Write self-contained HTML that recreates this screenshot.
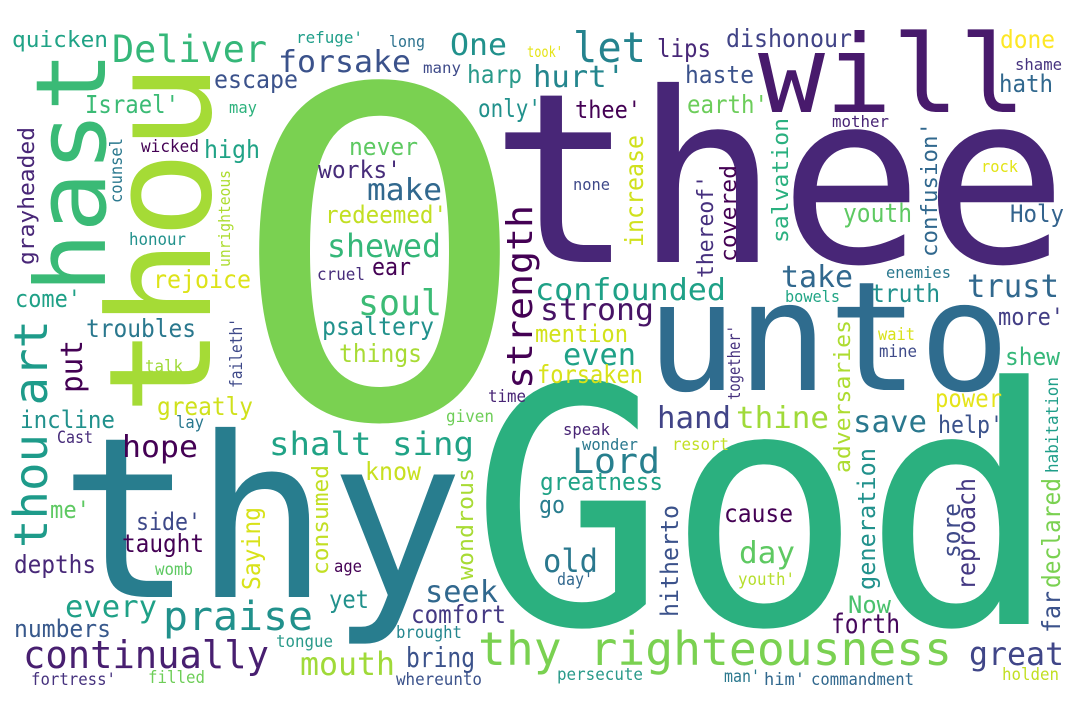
<!DOCTYPE html>
<html><head><meta charset="utf-8"><style>
html,body{margin:0;padding:0;background:#fff;}
svg{display:block;font-family:"DejaVu Sans Mono","Liberation Mono",monospace;}
</style></head><body>
<svg width="1080" height="720" viewBox="0 0 1080 720" xmlns="http://www.w3.org/2000/svg">
<rect width="1080" height="720" fill="#ffffff"/>
<g>
<text x="231" y="417" font-size="455" fill="#7ad151" textLength="297" lengthAdjust="spacingAndGlyphs">O</text>
<text x="490" y="262" font-size="237" fill="#482677" textLength="578" lengthAdjust="spacingAndGlyphs">thee</text>
<text x="758" y="112" font-size="108" fill="#481a6c" textLength="268" lengthAdjust="spacingAndGlyphs">will</text>
<text x="646" y="390" font-size="152" fill="#2f6c8e" textLength="364" lengthAdjust="spacingAndGlyphs">unto</text>
<text x="470" y="624" font-size="330" fill="#2bb07f" textLength="589" lengthAdjust="spacingAndGlyphs">God</text>
<text x="59" y="597" font-size="224" fill="#287d8e" textLength="405" lengthAdjust="spacingAndGlyphs">thy</text>
<text x="210" y="415" font-size="142" fill="#a5db36" textLength="352" lengthAdjust="spacingAndGlyphs" transform="rotate(-90 210 415)">thou</text>
<text x="105" y="293" font-size="97" fill="#3aba76" textLength="242" lengthAdjust="spacingAndGlyphs" transform="rotate(-90 105 293)">hast</text>
<text x="47" y="548" font-size="46" fill="#1e9b8a" textLength="228" lengthAdjust="spacingAndGlyphs" transform="rotate(-90 47 548)">thou art</text>
<text x="532" y="389" font-size="36" fill="#440154" textLength="184" lengthAdjust="spacingAndGlyphs" transform="rotate(-90 532 389)">strength</text>
<text x="82" y="393" font-size="30" fill="#440154" textLength="53" lengthAdjust="spacingAndGlyphs" transform="rotate(-90 82 393)">put</text>

<text x="12" y="47" font-size="22" fill="#20a386" textLength="96" lengthAdjust="spacingAndGlyphs">quicken</text>
<text x="112" y="62" font-size="37" fill="#35b779" textLength="155" lengthAdjust="spacingAndGlyphs">Deliver</text>
<text x="296" y="43" font-size="16" fill="#1f9e89" textLength="67" lengthAdjust="spacingAndGlyphs">refuge'</text>
<text x="389" y="47" font-size="16" fill="#2c728e" textLength="36" lengthAdjust="spacingAndGlyphs">long</text>
<text x="450" y="55" font-size="30" fill="#21918c" textLength="57" lengthAdjust="spacingAndGlyphs">One</text>
<text x="278" y="72" font-size="30" fill="#3b528b" textLength="133" lengthAdjust="spacingAndGlyphs">forsake</text>
<text x="423" y="73" font-size="15" fill="#3e4a89" textLength="38" lengthAdjust="spacingAndGlyphs">many</text>
<text x="467" y="83" font-size="25" fill="#2a9a8a" textLength="55" lengthAdjust="spacingAndGlyphs">harp</text>
<text x="214" y="88" font-size="25" fill="#3b528b" textLength="84" lengthAdjust="spacingAndGlyphs">escape</text>
<text x="85" y="113" font-size="25" fill="#3bbb75" textLength="94" lengthAdjust="spacingAndGlyphs">Israel'</text>
<text x="229" y="113" font-size="16" fill="#2db27d" textLength="28" lengthAdjust="spacingAndGlyphs">may</text>
<text x="478" y="117" font-size="25" fill="#21918c" textLength="63" lengthAdjust="spacingAndGlyphs">only'</text>
<text x="141" y="152" font-size="17" fill="#440154" textLength="58" lengthAdjust="spacingAndGlyphs">wicked</text>
<text x="204" y="158" font-size="25" fill="#20a386" textLength="56" lengthAdjust="spacingAndGlyphs">high</text>
<text x="129" y="245" font-size="17" fill="#21918c" textLength="57" lengthAdjust="spacingAndGlyphs">honour</text>
<text x="349" y="155" font-size="24" fill="#5ec962" textLength="69" lengthAdjust="spacingAndGlyphs">never</text>
<text x="318" y="178" font-size="24" fill="#472c7a" textLength="83" lengthAdjust="spacingAndGlyphs">works'</text>
<text x="367" y="200" font-size="30" fill="#31688e" textLength="75" lengthAdjust="spacingAndGlyphs">make</text>
<text x="325" y="223" font-size="24" fill="#c2df23" textLength="122" lengthAdjust="spacingAndGlyphs">redeemed'</text>
<text x="327" y="257" font-size="32" fill="#35b779" textLength="114" lengthAdjust="spacingAndGlyphs">shewed</text>
<text x="317" y="280" font-size="17" fill="#472d7b" textLength="48" lengthAdjust="spacingAndGlyphs">cruel</text>
<text x="372" y="275" font-size="24" fill="#440154" textLength="39" lengthAdjust="spacingAndGlyphs">ear</text>
<text x="153" y="288" font-size="25" fill="#dde318" textLength="98" lengthAdjust="spacingAndGlyphs">rejoice</text>
<text x="15" y="307" font-size="24" fill="#1fa187" textLength="66" lengthAdjust="spacingAndGlyphs">come'</text>
<text x="358" y="315" font-size="36" fill="#3bbb75" textLength="84" lengthAdjust="spacingAndGlyphs">soul</text>
<text x="86" y="337" font-size="25" fill="#2a788e" textLength="110" lengthAdjust="spacingAndGlyphs">troubles</text>
<text x="322" y="335" font-size="25" fill="#21918c" textLength="112" lengthAdjust="spacingAndGlyphs">psaltery</text>
<text x="339" y="362" font-size="25" fill="#a8db34" textLength="83" lengthAdjust="spacingAndGlyphs">things</text>
<text x="145" y="372" font-size="17" fill="#a0da39" textLength="38" lengthAdjust="spacingAndGlyphs">talk</text>
<text x="488" y="402" font-size="17" fill="#482475" textLength="38" lengthAdjust="spacingAndGlyphs">time</text>
<text x="157" y="415" font-size="25" fill="#d0e11c" textLength="96" lengthAdjust="spacingAndGlyphs">greatly</text>
<text x="446" y="422" font-size="17" fill="#6ece58" textLength="48" lengthAdjust="spacingAndGlyphs">given</text>
<text x="20" y="428" font-size="24" fill="#21918c" textLength="95" lengthAdjust="spacingAndGlyphs">incline</text>
<text x="176" y="428" font-size="17" fill="#2a788e" textLength="28" lengthAdjust="spacingAndGlyphs">lay</text>
<text x="57" y="443" font-size="17" fill="#472c7a" textLength="36" lengthAdjust="spacingAndGlyphs">Cast</text>
<text x="122" y="457" font-size="30" fill="#440154" textLength="76" lengthAdjust="spacingAndGlyphs">hope</text>
<text x="269" y="455" font-size="32" fill="#20a386" textLength="205" lengthAdjust="spacingAndGlyphs">shalt sing</text>
<text x="365" y="480" font-size="25" fill="#c8e020" textLength="56" lengthAdjust="spacingAndGlyphs">know</text>
<text x="50" y="518" font-size="24" fill="#5ec962" textLength="40" lengthAdjust="spacingAndGlyphs">me'</text>
<text x="136" y="530" font-size="24" fill="#3e4989" textLength="65" lengthAdjust="spacingAndGlyphs">side'</text>
<text x="122" y="552" font-size="25" fill="#440154" textLength="82" lengthAdjust="spacingAndGlyphs">taught</text>
<text x="14" y="573" font-size="25" fill="#482878" textLength="82" lengthAdjust="spacingAndGlyphs">depths</text>
<text x="155" y="575" font-size="17" fill="#5ec962" textLength="38" lengthAdjust="spacingAndGlyphs">womb</text>
<text x="334" y="572" font-size="17" fill="#440154" textLength="28" lengthAdjust="spacingAndGlyphs">age</text>
<text x="425" y="602" font-size="30" fill="#31688e" textLength="73" lengthAdjust="spacingAndGlyphs">seek</text>
<text x="329" y="608" font-size="25" fill="#21918c" textLength="40" lengthAdjust="spacingAndGlyphs">yet</text>
<text x="65" y="617" font-size="30" fill="#1fa187" textLength="92" lengthAdjust="spacingAndGlyphs">every</text>
<text x="163" y="630" font-size="40" fill="#21918c" textLength="150" lengthAdjust="spacingAndGlyphs">praise</text>
<text x="411" y="623" font-size="25" fill="#443983" textLength="95" lengthAdjust="spacingAndGlyphs">comfort</text>
<text x="14" y="637" font-size="24" fill="#38598c" textLength="97" lengthAdjust="spacingAndGlyphs">numbers</text>
<text x="396" y="638" font-size="17" fill="#24868e" textLength="66" lengthAdjust="spacingAndGlyphs">brought</text>
<text x="276" y="647" font-size="17" fill="#2a9a8a" textLength="57" lengthAdjust="spacingAndGlyphs">tongue</text>
<text x="23" y="668" font-size="38" fill="#481f70" textLength="246" lengthAdjust="spacingAndGlyphs">continually</text>
<text x="300" y="675" font-size="32" fill="#a0da39" textLength="95" lengthAdjust="spacingAndGlyphs">mouth</text>
<text x="406" y="667" font-size="28" fill="#3b528b" textLength="69" lengthAdjust="spacingAndGlyphs">bring</text>
<text x="31" y="685" font-size="17" fill="#46327e" textLength="85" lengthAdjust="spacingAndGlyphs">fortress'</text>
<text x="148" y="683" font-size="17" fill="#6ece58" textLength="57" lengthAdjust="spacingAndGlyphs">filled</text>
<text x="396" y="685" font-size="17" fill="#3b528b" textLength="86" lengthAdjust="spacingAndGlyphs">whereunto</text>

<text x="34" y="265" font-size="22" fill="#482677" textLength="138" lengthAdjust="spacingAndGlyphs" transform="rotate(-90 34 265)">grayheaded</text>
<text x="122" y="203" font-size="17" fill="#2a788e" textLength="65" lengthAdjust="spacingAndGlyphs" transform="rotate(-90 122 203)">counsel</text>
<text x="230" y="267" font-size="16" fill="#addc30" textLength="97" lengthAdjust="spacingAndGlyphs" transform="rotate(-90 230 267)">unrighteous</text>
<text x="242" y="388" font-size="17" fill="#3e4989" textLength="70" lengthAdjust="spacingAndGlyphs" transform="rotate(-90 242 388)">faileth'</text>
<text x="260" y="590" font-size="25" fill="#d8e219" textLength="83" lengthAdjust="spacingAndGlyphs" transform="rotate(-90 260 590)">Saying</text>
<text x="328" y="575" font-size="22" fill="#c2df23" textLength="110" lengthAdjust="spacingAndGlyphs" transform="rotate(-90 328 575)">consumed</text>
<text x="473" y="580" font-size="22" fill="#a8db34" textLength="112" lengthAdjust="spacingAndGlyphs" transform="rotate(-90 473 580)">wondrous</text>

<text x="527" y="57" font-size="15" fill="#e5e419" textLength="36" lengthAdjust="spacingAndGlyphs">took'</text>
<text x="573" y="62" font-size="42" fill="#25838e" textLength="73" lengthAdjust="spacingAndGlyphs">let</text>
<text x="657" y="57" font-size="25" fill="#482878" textLength="54" lengthAdjust="spacingAndGlyphs">lips</text>
<text x="726" y="47" font-size="25" fill="#414487" textLength="126" lengthAdjust="spacingAndGlyphs">dishonour</text>
<text x="1000" y="48" font-size="25" fill="#fde725" textLength="55" lengthAdjust="spacingAndGlyphs">done</text>
<text x="1015" y="70" font-size="16" fill="#46337f" textLength="47" lengthAdjust="spacingAndGlyphs">shame</text>
<text x="533" y="87" font-size="30" fill="#24868e" textLength="92" lengthAdjust="spacingAndGlyphs">hurt'</text>
<text x="685" y="83" font-size="24" fill="#3b528b" textLength="69" lengthAdjust="spacingAndGlyphs">haste</text>
<text x="999" y="92" font-size="24" fill="#31688e" textLength="54" lengthAdjust="spacingAndGlyphs">hath</text>
<text x="687" y="113" font-size="25" fill="#6ccd5a" textLength="81" lengthAdjust="spacingAndGlyphs">earth'</text>
<text x="575" y="118" font-size="24" fill="#440154" textLength="66" lengthAdjust="spacingAndGlyphs">thee'</text>
<text x="832" y="127" font-size="16" fill="#482475" textLength="57" lengthAdjust="spacingAndGlyphs">mother</text>
<text x="573" y="190" font-size="16" fill="#3e4989" textLength="37" lengthAdjust="spacingAndGlyphs">none</text>
<text x="981" y="172" font-size="16" fill="#e2e418" textLength="37" lengthAdjust="spacingAndGlyphs">rock</text>
<text x="843" y="222" font-size="26" fill="#5ec962" textLength="69" lengthAdjust="spacingAndGlyphs">youth</text>
<text x="1010" y="222" font-size="24" fill="#33638d" textLength="54" lengthAdjust="spacingAndGlyphs">Holy</text>
<text x="781" y="287" font-size="30" fill="#31688e" textLength="72" lengthAdjust="spacingAndGlyphs">take</text>
<text x="886" y="278" font-size="16" fill="#2a788e" textLength="65" lengthAdjust="spacingAndGlyphs">enemies</text>
<text x="785" y="302" font-size="16" fill="#21a585" textLength="55" lengthAdjust="spacingAndGlyphs">bowels</text>
<text x="871" y="302" font-size="25" fill="#21918c" textLength="69" lengthAdjust="spacingAndGlyphs">truth</text>
<text x="967" y="297" font-size="32" fill="#31688e" textLength="92" lengthAdjust="spacingAndGlyphs">trust</text>
<text x="535" y="300" font-size="30" fill="#1fa187" textLength="191" lengthAdjust="spacingAndGlyphs">confounded</text>
<text x="540" y="320" font-size="30" fill="#471365" textLength="114" lengthAdjust="spacingAndGlyphs">strong</text>
<text x="998" y="325" font-size="24" fill="#433e85" textLength="66" lengthAdjust="spacingAndGlyphs">more'</text>
<text x="535" y="342" font-size="24" fill="#d2e21b" textLength="93" lengthAdjust="spacingAndGlyphs">mention</text>
<text x="563" y="365" font-size="30" fill="#1fa187" textLength="73" lengthAdjust="spacingAndGlyphs">even</text>
<text x="878" y="340" font-size="17" fill="#d8e219" textLength="37" lengthAdjust="spacingAndGlyphs">wait</text>
<text x="879" y="357" font-size="17" fill="#3e4a89" textLength="38" lengthAdjust="spacingAndGlyphs">mine</text>
<text x="1005" y="365" font-size="24" fill="#35b779" textLength="55" lengthAdjust="spacingAndGlyphs">shew</text>
<text x="537" y="383" font-size="25" fill="#d8e219" textLength="106" lengthAdjust="spacingAndGlyphs">forsaken</text>
<text x="935" y="407" font-size="25" fill="#e5e419" textLength="67" lengthAdjust="spacingAndGlyphs">power</text>
<text x="657" y="428" font-size="30" fill="#414487" textLength="74" lengthAdjust="spacingAndGlyphs">hand</text>
<text x="736" y="428" font-size="30" fill="#a0da39" textLength="93" lengthAdjust="spacingAndGlyphs">thine</text>
<text x="853" y="432" font-size="30" fill="#2a788e" textLength="74" lengthAdjust="spacingAndGlyphs">save</text>
<text x="938" y="433" font-size="24" fill="#3b528b" textLength="65" lengthAdjust="spacingAndGlyphs">help'</text>
<text x="563" y="435" font-size="16" fill="#482475" textLength="47" lengthAdjust="spacingAndGlyphs">speak</text>
<text x="582" y="450" font-size="16" fill="#2a788e" textLength="56" lengthAdjust="spacingAndGlyphs">wonder</text>
<text x="672" y="450" font-size="17" fill="#c2df23" textLength="57" lengthAdjust="spacingAndGlyphs">resort</text>
<text x="572" y="473" font-size="35" fill="#277f8e" textLength="88" lengthAdjust="spacingAndGlyphs">Lord</text>
<text x="540" y="490" font-size="24" fill="#20a386" textLength="123" lengthAdjust="spacingAndGlyphs">greatness</text>
<text x="539" y="513" font-size="24" fill="#287d8e" textLength="26" lengthAdjust="spacingAndGlyphs">go</text>
<text x="724" y="522" font-size="25" fill="#440154" textLength="69" lengthAdjust="spacingAndGlyphs">cause</text>
<text x="739" y="563" font-size="30" fill="#5ec962" textLength="56" lengthAdjust="spacingAndGlyphs">day</text>
<text x="543" y="572" font-size="32" fill="#2a788e" textLength="55" lengthAdjust="spacingAndGlyphs">old</text>
<text x="557" y="585" font-size="17" fill="#31688e" textLength="36" lengthAdjust="spacingAndGlyphs">day'</text>
<text x="738" y="585" font-size="17" fill="#b5de2b" textLength="57" lengthAdjust="spacingAndGlyphs">youth'</text>
<text x="848" y="613" font-size="24" fill="#4ac16d" textLength="43" lengthAdjust="spacingAndGlyphs">Now</text>
<text x="831" y="633" font-size="27" fill="#46085c" textLength="69" lengthAdjust="spacingAndGlyphs">forth</text>
<text x="478" y="665" font-size="46" fill="#7ad151" textLength="474" lengthAdjust="spacingAndGlyphs">thy righteousness</text>
<text x="969" y="665" font-size="32" fill="#404688" textLength="95" lengthAdjust="spacingAndGlyphs">great</text>
<text x="557" y="680" font-size="17" fill="#2a9a8a" textLength="86" lengthAdjust="spacingAndGlyphs">persecute</text>
<text x="724" y="682" font-size="17" fill="#2a788e" textLength="36" lengthAdjust="spacingAndGlyphs">man'</text>
<text x="764" y="685" font-size="17" fill="#31688e" textLength="41" lengthAdjust="spacingAndGlyphs">him'</text>
<text x="811" y="685" font-size="17" fill="#31688e" textLength="103" lengthAdjust="spacingAndGlyphs">commandment</text>
<text x="1002" y="680" font-size="17" fill="#c2df23" textLength="57" lengthAdjust="spacingAndGlyphs">holden</text>

<text x="643" y="247" font-size="25" fill="#d0e11c" textLength="112" lengthAdjust="spacingAndGlyphs" transform="rotate(-90 643 247)">increase</text>
<text x="713" y="278" font-size="22" fill="#46307e" textLength="103" lengthAdjust="spacingAndGlyphs" transform="rotate(-90 713 278)">thereof'</text>
<text x="736" y="262" font-size="22" fill="#440154" textLength="97" lengthAdjust="spacingAndGlyphs" transform="rotate(-90 736 262)">covered</text>
<text x="788" y="243" font-size="22" fill="#2ab07f" textLength="125" lengthAdjust="spacingAndGlyphs" transform="rotate(-90 788 243)">salvation</text>
<text x="937" y="257" font-size="22" fill="#31688e" textLength="135" lengthAdjust="spacingAndGlyphs" transform="rotate(-90 937 257)">confusion'</text>
<text x="740" y="400" font-size="17" fill="#46327e" textLength="75" lengthAdjust="spacingAndGlyphs" transform="rotate(-90 740 400)">together'</text>
<text x="850" y="473" font-size="22" fill="#addc30" textLength="153" lengthAdjust="spacingAndGlyphs" transform="rotate(-90 850 473)">adversaries</text>
<text x="1058" y="473" font-size="17" fill="#1f9e89" textLength="96" lengthAdjust="spacingAndGlyphs" transform="rotate(-90 1058 473)">habitation</text>
<text x="875" y="590" font-size="24" fill="#21918c" textLength="142" lengthAdjust="spacingAndGlyphs" transform="rotate(-90 875 590)">generation</text>
<text x="678" y="617" font-size="24" fill="#3b528b" textLength="112" lengthAdjust="spacingAndGlyphs" transform="rotate(-90 678 617)">hitherto</text>
<text x="960" y="558" font-size="24" fill="#3e4a89" textLength="55" lengthAdjust="spacingAndGlyphs" transform="rotate(-90 960 558)">sore</text>
<text x="975" y="590" font-size="25" fill="#443983" textLength="112" lengthAdjust="spacingAndGlyphs" transform="rotate(-90 975 590)">reproach</text>
<text x="1060" y="633" font-size="25" fill="#3b528b" textLength="42" lengthAdjust="spacingAndGlyphs" transform="rotate(-90 1060 633)">far</text>
<text x="1060" y="588" font-size="25" fill="#7ad151" textLength="110" lengthAdjust="spacingAndGlyphs" transform="rotate(-90 1060 588)">declared</text>
</g>
</svg>
</body></html>
